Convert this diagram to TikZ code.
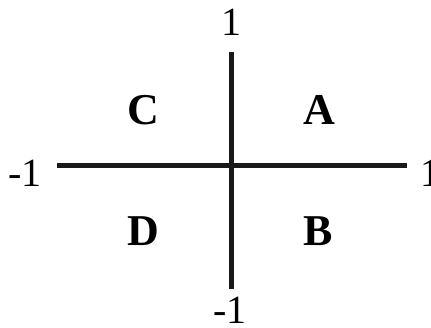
\documentclass[tikz,border=0pt]{standalone}
\usepackage{fontspec}
\setmainfont{Liberation Serif}
\usetikzlibrary{positioning}

\begin{document}
\begin{tikzpicture}[
  x=1pt,y=-1pt,
  axis/.style={line width=5pt,draw=black!90},
  num/.style={inner sep=0pt,font=\fontsize{40}{44}\selectfont},
  quad/.style={inner sep=0pt,font=\fontsize{44}{48}\selectfont\bfseries}
]
\useasboundingbox (0,0) rectangle (431,328);
% axis ends
\coordinate (xl) at (57,166);
\coordinate (xr) at (407,166);
\coordinate (yt) at (231,52);
\coordinate (yb) at (231,289);
\draw[axis] (xl) -- (xr);
\draw[axis] (yt) -- (yb);
% end labels
\node[num] (top) at (231,22) {1};
\node[num] (bot) at (230,310) {-1};
\node[num] (lft) at (25,173) {-1};
\node[num] (rgt) at (430,173) {1};
% quadrants
\node[quad] (qc) at (143,110) {C};
\node[quad] (qa) at (319,110) {A};
\node[quad] (qd) at (143,231) {D};
\node[quad] (qb) at (318,231) {B};
\end{tikzpicture}
\end{document}
